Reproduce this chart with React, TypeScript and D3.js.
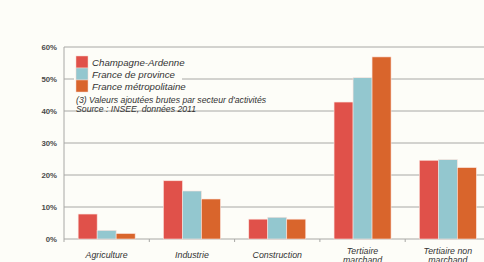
import { useMemo } from "react";
import * as d3 from "d3";

const categories = ["Agriculture", "Industrie", "Construction", "Tertiaire marchand", "Tertiaire non marchand"];
const categoryLines = [["Agriculture"], ["Industrie"], ["Construction"], ["Tertiaire", "marchand"], ["Tertiaire non", "marchand"]];
const seriesNames = ["Champagne-Ardenne", "France de province", "France métropolitaine"];
const seriesColors = ["#e0514a", "#93c7cf", "#d9652c"];
const champagne = [7.8, 18.2, 6.2, 42.8, 24.6];
const province = [2.7, 15.0, 6.8, 50.4, 24.8];
const metropole = [1.7, 12.5, 6.2, 56.9, 22.3];
const yTicks = [0, 10, 20, 30, 40, 50, 60];
const noteLines = ["(3) Valeurs ajoutées brutes par secteur d'activités", "Source : INSEE, données 2011"];

const W = 484;
const H = 262;
const margin = { left: 64, top: 47, bottom: 23 };
const plotRight = 490.5;

export default function App() {
  const values = [champagne, province, metropole];

  const x0 = useMemo(
    () => d3.scaleBand<string>().domain(categories).range([margin.left, plotRight]).padding(0),
    [],
  );
  const x1 = useMemo(
    () => d3.scaleBand<string>().domain(seriesNames).range([0, x0.bandwidth()]).paddingInner(0).paddingOuter(0.745),
    [x0],
  );
  const y = useMemo(
    () => d3.scaleLinear().domain([0, 60]).range([H - margin.bottom, margin.top]),
    [],
  );
  const fmt = (v: number) => `${v}%`;

  return (
    <div style={{ position: "fixed", left: 0, top: 0, width: W, height: H, background: "#fdfdf8" }}>
      <svg width={W} height={H} style={{ display: "block", fontFamily: "'Liberation Sans', Arial, sans-serif" }}>
        <rect width={W} height={H} fill="#fdfdf8" />
        {/* grid */}
        {yTicks.map((t) => (
          <g key={t}>
            <line x1={margin.left} x2={W} y1={y(t)} y2={y(t)} stroke="#a8a8a5" strokeWidth={1} />
            <text x={57} y={y(t) + 2.8} fontSize={7.8} fontWeight="bold" textAnchor="end" fill="#4a4a4a">
              {fmt(t)}
            </text>
          </g>
        ))}
        <line x1={margin.left} x2={margin.left} y1={y(60)} y2={y(0) + 3} stroke="#a8a8a5" />
        {categories.slice(1).map((c) => (
          <line key={c} x1={x0(c)!} x2={x0(c)!} y1={y(0)} y2={y(0) + 3} stroke="#a8a8a5" />
        ))}

        {/* legend box covers grid */}
        <rect x={74} y={51} width={108} height={44} fill="#fdfdf8" />
        {seriesNames.map((s, i) => (
          <g key={s}>
            <rect x={76} y={56 + i * 12} width={12} height={12} fill={seriesColors[i]} stroke="#f6d5cc" strokeWidth={0.5} />
            <text x={92} y={65.5 + i * 12} fontSize={9.7} fontStyle="italic" fill="#333">
              {s}
            </text>
          </g>
        ))}
        {noteLines.map((l, i) => (
          <text key={l} x={76} y={103 + i * 9} fontSize={8.7} fontStyle="italic" fill="#333">
            {l}
          </text>
        ))}

        {/* bars */}
        {categories.map((c, ci) => (
          <g key={c} transform={`translate(${x0(c)},0)`}>
            {seriesNames.map((s, si) => (
              <rect
                key={s}
                x={x1(s)!}
                y={y(values[si][ci])}
                width={x1.bandwidth()}
                height={y(0) - y(values[si][ci])}
                fill={seriesColors[si]}
                stroke="#fbe3dc"
                strokeWidth={0.6}
              />
            ))}
            {categoryLines[ci].map((l, li) => (
              <text
                key={l}
                x={x0.bandwidth() / 2}
                y={categoryLines[ci].length > 1 ? 254 + li * 8.5 : 258}
                fontSize={8.8}
                fontStyle="italic"
                textAnchor="middle"
                fill="#333"
              >
                {l}
              </text>
            ))}
          </g>
        ))}
      </svg>
    </div>
  );
}
